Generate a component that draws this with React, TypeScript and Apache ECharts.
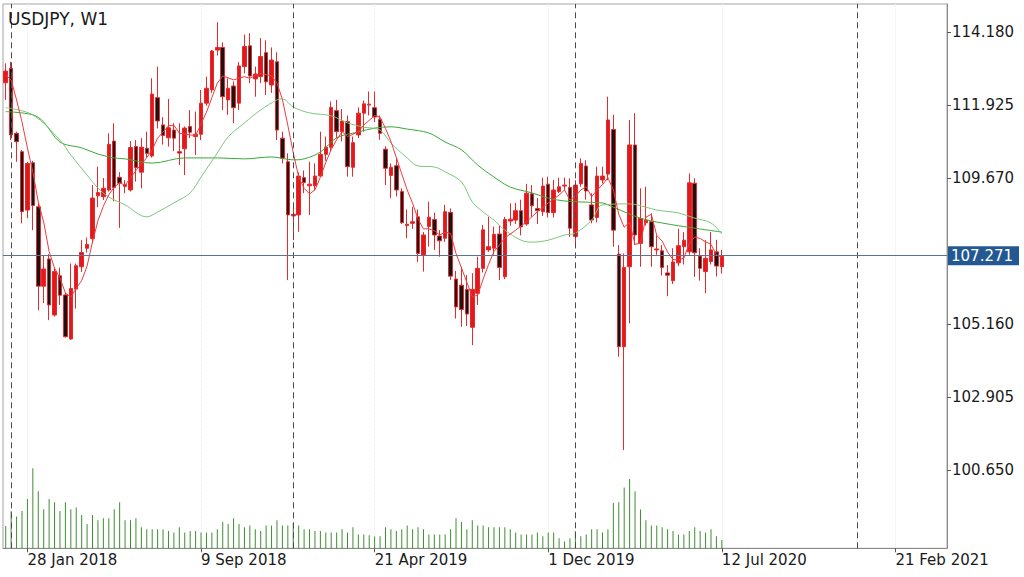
import React, { useEffect, useRef } from "react";
import * as echarts from "echarts";

// ---------- data ----------
const title = "USDJPY, W1";
const firstWeek = [2017, 11, 31]; // 31 Dec 2017 (UTC y, m, d)
const weeksOnAxis = 174;

const tickDates = ["2018-01-28", "2018-09-09", "2019-04-21", "2019-12-01", "2020-07-12", "2021-02-21"];
const tickLabels = ["28 Jan 2018", "9 Sep 2018", "21 Apr 2019", "1 Dec 2019", "12 Jul 2020", "21 Feb 2021"];
const yearSeparators = ["2018-01-07", "2019-01-06", "2020-01-05", "2021-01-03"];
const priceTicks = [100.65, 102.905, 105.16, 109.67, 111.925, 114.18];
const lastPrice = 107.271;
const priceMin = 98.237;
const priceMax = 115.042;

const opens = [
  112.61, 113.06, 111.05, 110.48, 108.68, 110.14, 108.78, 106.33, 107.17, 105.44,
  106.65, 106.06, 104.7, 106.24, 106.93, 107.5, 107.8, 109.12, 109.09, 109.3,
  110.81, 109.69, 109.41, 109.3, 110.64, 109.85, 110.59, 110.35, 112.15, 111.31,
  110.91, 111.15, 110.48, 110.57, 111.26, 110.95, 111.02, 111.98, 112.39, 113.62,
  113.7, 112.08, 112.51, 111.98, 113.11, 113.75, 112.73, 112.8, 113.54, 112.54,
  113.26, 110.9, 110.17, 108.5, 108.53, 109.68, 109.43, 109.43, 109.73, 110.4,
  110.62, 111.75, 111.1, 111.41, 110.0, 111.0, 111.67, 111.92, 111.84, 111.48,
  110.56, 109.75, 110.05, 109.25, 108.2, 108.27, 108.47, 107.29, 108.17, 108.39,
  107.88, 107.81, 108.61, 106.55, 106.36, 106.23, 105.06, 106.11, 106.88, 107.45,
  107.5, 107.94, 106.62, 108.34, 108.37, 108.66, 108.25, 109.18, 108.73, 108.63,
  109.48, 108.6, 109.25, 109.42, 109.38, 107.86, 109.49, 110.04, 108.84, 108.45,
  109.61, 109.79, 111.17, 107.32, 104.46, 106.93, 110.69, 107.65, 108.29, 108.32,
  107.45, 107.42, 106.74, 106.5, 107.05, 107.55, 107.39, 109.51, 107.26, 106.78,
  107.09, 107.39, 106.93,
];
const highs = [
  113.21, 113.26, 111.1, 110.53, 110.17, 110.2, 108.9, 107.29, 107.32, 106.89,
  106.9, 106.12, 107.03, 107.03, 107.75, 107.83, 109.45, 110.02, 109.67, 111.05,
  111.36, 109.85, 109.6, 110.81, 110.84, 110.9, 111.1, 112.75, 113.11, 111.55,
  112.11, 111.36, 111.36, 111.26, 111.77, 111.72, 112.39, 112.8, 113.62, 114.48,
  113.86, 112.75, 112.65, 113.25, 114.1, 114.14, 113.11, 113.99, 113.92, 113.7,
  113.55, 111.1, 110.43, 108.9, 109.84, 109.9, 110.17, 110.12, 111.1, 110.95,
  112.03, 112.08, 111.8, 111.6, 110.95, 111.85, 112.06, 112.34, 112.34, 111.6,
  110.65, 110.12, 110.3, 109.35, 108.7, 108.78, 108.7, 108.0, 108.94, 108.6,
  108.06, 108.84, 108.73, 106.8, 106.93, 106.67, 106.73, 107.24, 108.22, 108.47,
  108.17, 108.2, 108.47, 108.89, 108.9, 109.0, 109.49, 109.45, 109.05, 109.68,
  109.71, 109.61, 109.68, 109.68, 109.66, 109.6, 110.28, 110.22, 109.2, 110.02,
  110.02, 112.18, 111.62, 107.6, 107.34, 111.46, 111.67, 109.35, 109.4, 108.58,
  107.9, 107.6, 106.98, 107.5, 108.1, 108.0, 109.81, 109.66, 107.5, 107.75,
  108.0, 107.76, 107.45,
];
const lows = [
  112.08, 110.84, 110.17, 108.27, 108.43, 108.06, 105.59, 105.81, 105.28, 105.39,
  105.75, 104.74, 104.67, 105.64, 106.77, 107.37, 107.66, 108.77, 108.99, 109.25,
  108.95, 108.13, 109.2, 109.25, 109.56, 109.35, 110.3, 110.3, 111.2, 110.7,
  110.64, 110.5, 110.07, 109.76, 110.9, 110.38, 110.84, 111.9, 112.3, 113.45,
  111.77, 111.62, 111.36, 111.77, 112.9, 112.6, 112.18, 112.6, 112.23, 112.3,
  110.84, 110.12, 106.52, 107.75, 108.01, 109.2, 108.53, 109.3, 109.71, 110.2,
  110.5, 110.9, 110.8, 109.71, 109.71, 110.9, 111.1, 111.6, 111.4, 110.85,
  109.45, 109.05, 109.1, 108.25, 107.81, 108.1, 107.08, 106.78, 107.55, 107.45,
  107.24, 107.7, 106.52, 105.33, 105.08, 105.1, 104.51, 105.75, 106.75, 107.39,
  107.3, 106.52, 106.55, 108.2, 108.25, 107.9, 108.2, 108.47, 108.25, 108.5,
  108.45, 108.45, 109.2, 109.3, 107.85, 107.5, 109.4, 109.0, 108.27, 108.3,
  109.5, 109.6, 107.55, 104.15, 101.27, 105.18, 107.6, 106.93, 108.2, 106.93,
  107.3, 106.66, 106.02, 106.4, 106.95, 107.0, 107.3, 106.62, 106.5, 106.11,
  107.0, 106.63, 106.72,
];
const closes = [
  112.97, 111.0, 110.79, 108.63, 110.12, 108.82, 106.33, 106.86, 105.75, 106.78,
  106.05, 104.77, 106.26, 106.96, 107.37, 107.62, 109.05, 109.22, 109.35, 110.71,
  109.37, 109.51, 109.47, 110.61, 109.99, 110.62, 110.43, 112.26, 111.43, 110.98,
  111.22, 110.9, 110.44, 111.21, 111.08, 111.02, 111.98, 112.44, 113.59, 113.7,
  112.18, 112.44, 111.84, 113.13, 113.73, 112.82, 112.88, 113.42, 112.64, 113.31,
  111.15, 110.28, 108.53, 108.55, 109.73, 109.53, 109.48, 109.73, 110.4, 110.62,
  111.85, 111.1, 111.43, 110.02, 110.76, 111.67, 111.96, 111.95, 111.55, 111.05,
  109.97, 110.0, 109.3, 108.29, 108.24, 108.32, 107.34, 107.91, 108.46, 107.91,
  107.73, 108.63, 106.64, 105.69, 105.61, 105.47, 106.23, 106.88, 108.07, 107.55,
  107.93, 106.91, 108.39, 108.4, 108.66, 108.16, 109.2, 108.81, 108.66, 109.42,
  108.6, 109.3, 109.4, 109.45, 108.12, 109.45, 110.12, 109.27, 108.37, 109.73,
  109.73, 111.46, 108.06, 104.46, 106.91, 110.69, 107.91, 108.42, 108.37, 107.55,
  107.48, 106.91, 106.67, 107.08, 107.58, 107.75, 109.52, 107.36, 106.88, 107.19,
  107.45, 106.95, 107.27,
];
const volumes = [
  223, 373, 317, 373, 493, 800, 570, 390, 493, 460,
  373, 460, 390, 407, 333, 243, 333, 280, 300, 300,
  390, 460, 280, 280, 300, 210, 190, 190, 190, 190,
  173, 157, 210, 157, 173, 173, 157, 157, 157, 190,
  263, 243, 300, 243, 210, 227, 190, 173, 227, 227,
  280, 227, 227, 253, 227, 190, 190, 173, 173, 157,
  157, 157, 190, 157, 210, 137, 137, 130, 117, 120,
  210, 190, 173, 190, 227, 190, 210, 190, 137, 137,
  137, 137, 190, 300, 263, 190, 280, 227, 227, 210,
  210, 210, 210, 190, 157, 137, 137, 137, 157, 120,
  157, 157, 100, 67, 100, 173, 120, 137, 190, 190,
  157, 190, 453, 460, 607, 693, 570, 387, 280, 227,
  227, 210, 190, 173, 137, 137, 173, 210, 173, 157,
  190, 120, 83,
];
const volumeMax = 5443;

// moving averages: [bar index, price]
const maRed: [number, number][] = [
  [0, 112.85], [1, 112.7], [2, 112.08], [3, 111.4], [4, 110.6], [5, 109.86], [6, 108.93], [7, 108.31],
  [8, 107.4], [9, 106.89], [10, 106.58], [11, 106.12], [12, 105.99], [13, 106.27], [14, 106.5], [15, 106.95],
  [16, 107.7], [17, 108.35], [18, 108.8], [19, 109.15], [20, 109.39], [21, 109.52], [22, 109.45], [24, 109.9],
  [26, 110.3], [27, 110.54], [28, 110.9], [30, 111.28], [31, 111.3], [32, 111.05], [34, 111.0], [35, 110.98],
  [36, 111.34], [37, 111.7], [38, 112.15], [39, 112.6], [40, 112.82], [42, 112.7], [44, 112.8], [45, 112.75],
  [47, 112.9], [49, 112.82], [50, 112.6], [51, 112.1], [52, 111.3], [53, 110.45], [54, 109.7], [55, 109.35],
  [56, 109.18], [57, 109.3], [58, 109.7], [59, 110.15], [60, 110.55], [61, 110.85], [62, 111.1], [63, 110.95],
  [64, 111.02], [65, 111.1], [66, 111.3], [68, 111.6], [69, 111.55], [70, 111.2], [71, 110.8], [72, 110.3],
  [73, 109.8], [74, 109.3], [75, 108.89], [76, 108.4], [77, 108.1], [78, 108.1], [79, 108.04], [80, 107.91],
  [81, 108.0], [82, 107.96], [83, 107.34], [84, 106.9], [85, 106.45], [86, 106.0], [87, 106.05], [88, 106.55],
  [89, 107.0], [90, 107.4], [91, 107.6], [92, 107.82], [94, 108.06], [96, 108.32], [98, 108.63], [100, 108.9],
  [102, 109.14], [103, 109.3], [104, 108.99], [105, 109.1], [106, 109.3], [107, 109.4], [108, 109.09], [109, 109.3],
  [110, 109.46], [111, 109.68], [112, 109.3], [113, 108.55], [114, 108.15], [115, 108.3], [116, 107.62], [117, 107.66],
  [118, 108.46], [119, 108.55], [120, 107.9], [121, 107.72], [122, 107.38], [123, 107.15], [124, 107.14], [125, 107.2],
  [126, 107.65], [127, 107.85], [128, 107.8], [129, 107.7], [130, 107.62], [131, 107.3], [132, 107.22],
];
const maFast: [number, number][] = [
  [0, 111.84], [5, 111.62], [10, 110.84], [12, 110.38], [15, 109.76], [17, 109.36], [19, 109.08], [22, 108.84],
  [26, 108.47], [28, 108.62], [31, 108.9], [34, 109.21], [36, 109.7], [39, 110.44], [41, 110.94], [44, 111.37],
  [47, 111.77], [50, 112.08], [51, 112.11], [53, 111.86], [56, 111.68], [60, 111.59], [63, 111.37], [66, 111.24],
  [69, 111.15], [71, 110.75], [74, 110.29], [76, 110.04], [79, 110.01], [81, 109.86], [84, 109.55], [86, 108.93],
  [88, 108.62], [90, 108.37], [92, 108.06], [95, 107.75], [97, 107.69], [100, 107.75], [103, 107.91], [105, 107.97],
  [108, 108.37], [110, 108.84], [115, 108.87], [118, 108.77], [120, 108.68], [124, 108.59], [127, 108.43], [130, 108.28],
  [132, 107.94],
];
const maSlow: [number, number][] = [
  [0, 111.72], [5, 111.62], [7, 111.4], [10, 110.78], [14, 110.6], [17, 110.41], [20, 110.29], [22, 110.26],
  [27, 110.13], [33, 110.29], [39, 110.29], [44, 110.26], [49, 110.32], [53, 110.23], [55, 110.26], [58, 110.47],
  [61, 110.91], [65, 111.09], [68, 111.21], [71, 111.25], [74, 111.18], [78, 111.06], [81, 110.78], [84, 110.54],
  [87, 110.07], [90, 109.7], [93, 109.39], [97, 109.21], [100, 109.05], [103, 108.96], [106, 108.93], [110, 108.9],
  [111, 108.84], [117, 108.43], [121, 108.28], [127, 108.12], [132, 108.0],
];

// ---------- helpers ----------
function weeklyDates(start: number[], count: number): string[] {
  const base = Date.UTC(start[0], start[1], start[2]);
  const out: string[] = [];
  for (let i = 0; i < count; i++) {
    out.push(new Date(base + i * 7 * 86400000).toISOString().slice(0, 10));
  }
  return out;
}

const FONT = "DejaVu Sans";

export default function App() {
  const ref = useRef<HTMLDivElement>(null);

  useEffect(() => {
    if (!ref.current) return;
    const chart = echarts.init(ref.current, undefined, { renderer: "svg" });

    const dates = weeklyDates(firstWeek, weeksOnAxis);
    const labelByDate: Record<string, string> = {};
    tickDates.forEach((d, k) => (labelByDate[d] = tickLabels[k]));
    const tickIdx = new Set(tickDates.map((d) => dates.indexOf(d)));
    const isTick = (index: number) => tickIdx.has(index);

    const candleData = opens.map((o, i) => [o, closes[i], lows[i], highs[i]]);

    const option: any = {
      animation: false,
      backgroundColor: "#ffffff",
      textStyle: { fontFamily: FONT },
      title: {
        text: title,
        left: 3,
        top: 5,
        textStyle: { fontSize: 17, fontWeight: "normal", color: "#1a1a1a", fontFamily: FONT },
      },
      grid: {
        left: 3,
        right: 77,
        top: 4,
        bottom: 28.7,
        show: true,
        borderColor: "#a3a3a3",
        borderWidth: 1,
        backgroundColor: "transparent",
      },
      xAxis: {
        type: "category",
        data: dates,
        boundaryGap: true,
        axisLine: { show: true, lineStyle: { color: "#8a8a8a" } },
        axisTick: {
          show: true,
          alignWithLabel: true,
          interval: isTick,
          length: 4,
          lineStyle: { color: "#555555" },
        },
        axisLabel: {
          interval: isTick,
          formatter: (v: string) => labelByDate[v] ?? "",
          align: "left",
          margin: 4,
          fontSize: 15,
          color: "#1a1a1a",
          fontFamily: FONT,
        },
        splitLine: {
          show: true,
          interval: isTick,
          alignWithLabel: true,
          lineStyle: { color: "#ebebeb", type: "dotted", width: 1 },
        },
      },
      yAxis: [
        {
          type: "value",
          position: "right",
          min: priceMin,
          max: priceMax,
          axisLine: { show: true, lineStyle: { color: "#8a8a8a" } },
          axisTick: { show: true, length: 4, customValues: priceTicks, lineStyle: { color: "#555555" } },
          axisLabel: {
            customValues: priceTicks,
            formatter: (v: number) => v.toFixed(3),
            fontSize: 15,
            color: "#1a1a1a",
            margin: 5,
            fontFamily: FONT,
          },
          splitLine: { show: false },
        },
        {
          type: "value",
          min: 0,
          max: volumeMax,
          show: false,
          splitLine: { show: false },
        },
      ],
      series: [
        {
          type: "bar",
          name: "Volume",
          yAxisIndex: 1,
          data: volumes,
          barWidth: 1,
          silent: true,
          itemStyle: { color: "#3e8e31" },
          z: 1,
        },
        {
          type: "candlestick",
          name: "USDJPY",
          data: candleData,
          barWidth: 4,
          silent: true,
          itemStyle: {
            color: "#e3181b",
            color0: "#151515",
            borderColor: "#e52a2d",
            borderColor0: "#e52a2d",
            borderWidth: 1,
          },
          z: 2,
          markLine: {
            symbol: ["none", "none"],
            silent: true,
            animation: false,
            data: [
              ...yearSeparators.map((d) => ({
                xAxis: dates.indexOf(d),
                lineStyle: { color: "#4a4a4a", type: [6, 4], width: 1 },
                label: { show: false },
              })),
              {
                yAxis: lastPrice,
                lineStyle: { color: "#5d7391", type: "solid", width: 1 },
                label: {
                  show: true,
                  position: "end",
                  distance: 1,
                  formatter: lastPrice.toFixed(3),
                  backgroundColor: "#235892",
                  color: "#ffffff",
                  fontSize: 15,
                  fontFamily: FONT,
                  padding: [2, 6, 2, 3],
                },
              },
            ],
          },
        },
        {
          type: "line",
          name: "MA slow",
          data: maSlow,
          showSymbol: false,
          symbol: "none",
          smooth: 0.35,
          silent: true,
          lineStyle: { color: "#3aa83a", width: 1 },
          z: 3,
        },
        {
          type: "line",
          name: "MA fast",
          data: maFast,
          showSymbol: false,
          symbol: "none",
          smooth: 0.35,
          silent: true,
          lineStyle: { color: "#7cc67c", width: 1 },
          z: 3,
        },
        {
          type: "line",
          name: "MA 5",
          data: maRed,
          showSymbol: false,
          symbol: "none",
          smooth: false,
          silent: true,
          lineStyle: { color: "#ef3b3b", width: 1 },
          z: 4,
        },
      ],
    };

    chart.setOption(option);
    return () => chart.dispose();
  }, []);

  return (
    <div
      ref={ref}
      style={{ position: "fixed", left: 0, top: 0, width: 1024, height: 577, background: "#fff" }}
    />
  );
}
